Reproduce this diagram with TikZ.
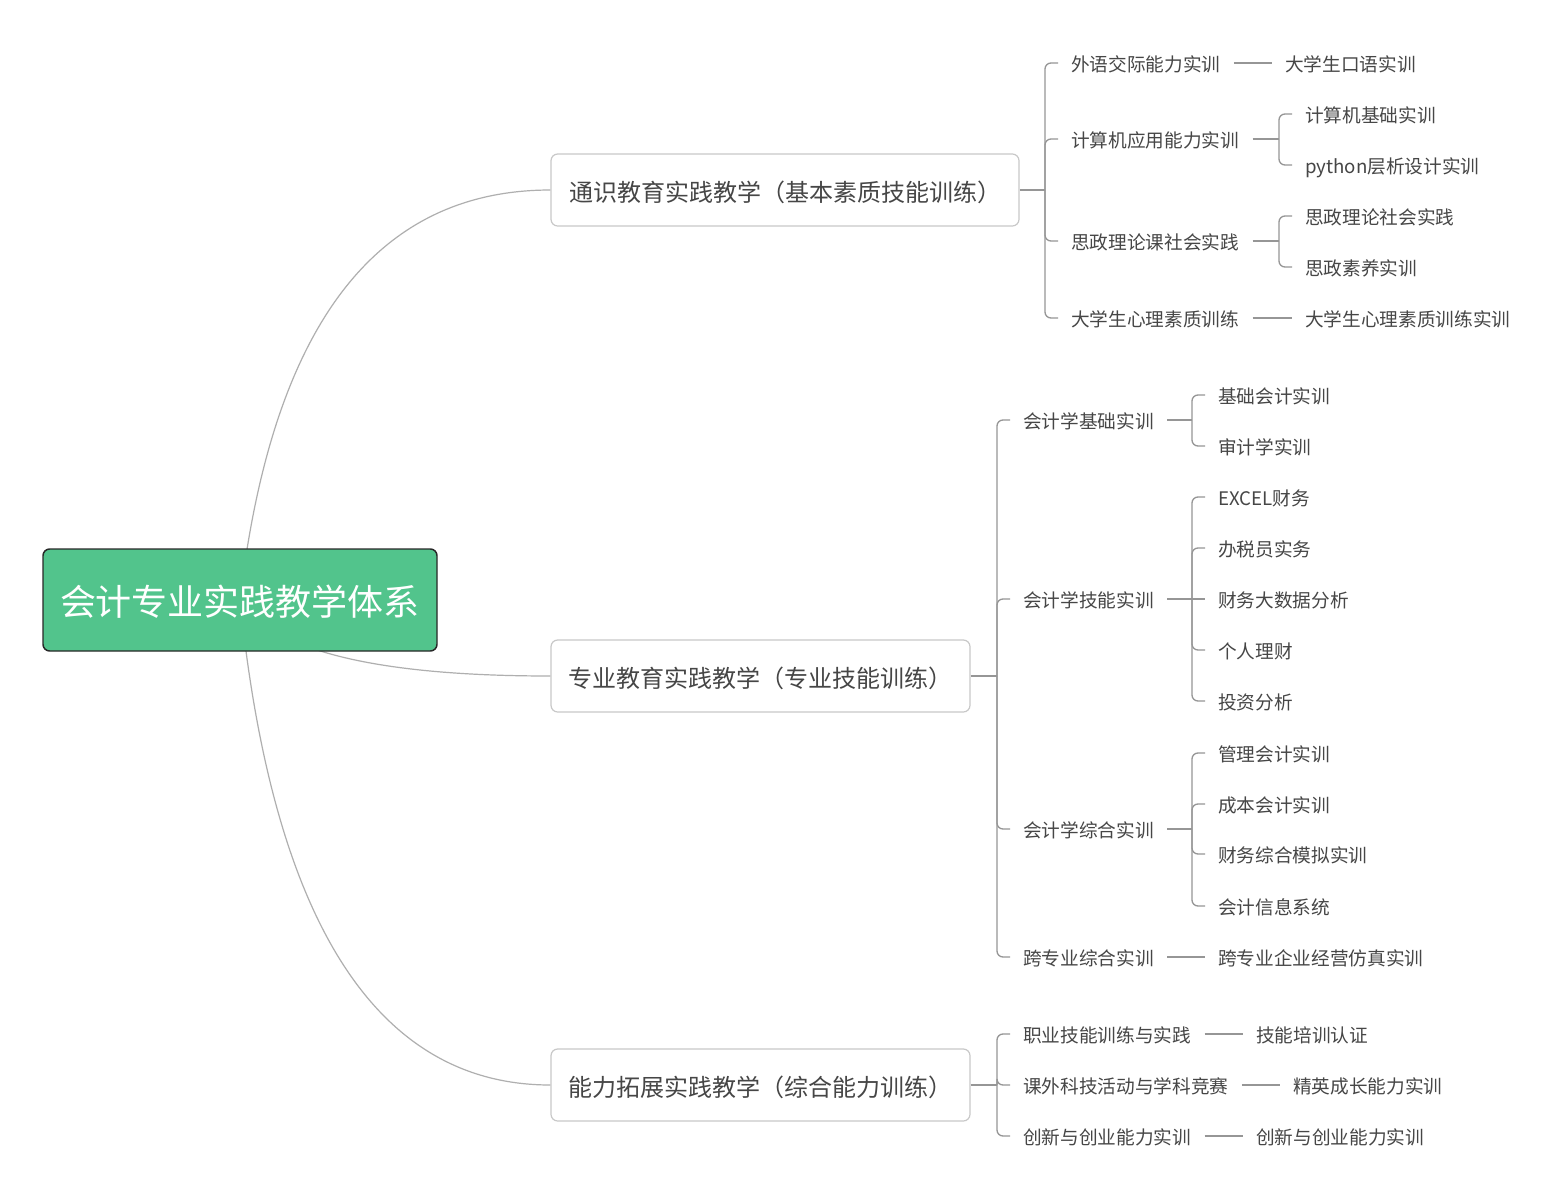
\documentclass[tikz,border=0pt]{standalone}
\usepackage{fontspec}
\setmainfont{Noto Sans CJK SC}
\usetikzlibrary{calc}
\definecolor{rootgreen}{RGB}{82,196,140}
\definecolor{rootedge}{RGB}{40,40,40}
\definecolor{curvecol}{RGB}{175,175,175}
\definecolor{linecol}{RGB}{150,150,150}
\definecolor{boxedge}{RGB}{200,200,200}
\definecolor{txt}{RGB}{70,70,70}
\tikzset{
  rootbox/.style={draw=rootedge, line width=1.1pt, fill=rootgreen, rounded corners=5pt,
    minimum width=295.5pt, minimum height=76.5pt, text=white, font=\fontsize{27pt}{30pt}\selectfont, inner sep=0pt,
    text height=23.6pt, text depth=0pt},
  mainbox/.style={draw=boxedge, line width=0.9pt, fill=white, rounded corners=5pt,
    minimum height=54pt, text=txt, font=\fontsize{18pt}{21pt}\selectfont, inner sep=0pt,
    text height=16.7pt, text depth=0pt},
  leaf/.style={anchor=west, inner sep=0pt, text=txt, font=\fontsize{14pt}{16pt}\selectfont,
    text height=13pt, text depth=0pt},
  curve/.style={draw=curvecol, line width=0.9pt},
  conn/.style={draw=linecol, line width=1pt, rounded corners=4.5pt},
}
\begin{document}
\begin{tikzpicture}[x=0.75pt,y=-0.75pt]
\useasboundingbox (0,0) rectangle (1564,1200);
\fill[white] (0,0) rectangle (1564,1200);

% curves (behind root)
\coordinate (rc) at (240,600);
\node[mainbox, minimum width=351pt] (m1) at (785,190) {通识教育实践教学（基本素质技能训练）};
\node[mainbox, minimum width=314.25pt] (m2) at (760.5,676) {专业教育实践教学（专业技能训练）};
\node[mainbox, minimum width=314.25pt] (m3) at (760.5,1085) {能力拓展实践教学（综合能力训练）};
\draw[curve] (rc) .. controls (272,327) and (375,190) .. (m1.west);
\draw[curve] (rc) .. controls (273,651) and (377,676) .. (m2.west);
\draw[curve] (rc) .. controls (273,923) and (377,1085) .. (m3.west);
\node[rootbox] (root) at (240,600) {会计专业实践教学体系};

% branch 1
\node[leaf] (a1) at (1071,63) {外语交际能力实训};
\node[leaf] (a2) at (1071,139) {计算机应用能力实训};
\node[leaf] (a3) at (1071,241) {思政理论课社会实践};
\node[leaf] (a4) at (1071,318) {大学生心理素质训练};
\node[leaf] (a11) at (1285,63) {大学生口语实训};
\node[leaf] (a21) at (1305,114) {计算机基础实训};
\node[leaf] (a22) at (1305,165) {python层析设计实训};
\node[leaf] (a31) at (1305,216) {思政理论社会实践};
\node[leaf] (a32) at (1305,267) {思政素养实训};
\node[leaf] (a41) at (1305,318) {大学生心理素质训练实训};

% branch 2
\node[leaf] (b1) at (1023,420) {会计学基础实训};
\node[leaf] (b2) at (1023,599) {会计学技能实训};
\node[leaf] (b3) at (1023,829) {会计学综合实训};
\node[leaf] (b4) at (1023,957) {跨专业综合实训};
\node[leaf] (b11) at (1218,395) {基础会计实训};
\node[leaf] (b12) at (1218,446) {审计学实训};
\node[leaf] (b21) at (1218,497) {EXCEL财务};
\node[leaf] (b22) at (1218,548) {办税员实务};
\node[leaf] (b23) at (1218,599) {财务大数据分析};
\node[leaf] (b24) at (1218,650) {个人理财};
\node[leaf] (b25) at (1218,701) {投资分析};
\node[leaf] (b31) at (1218,753) {管理会计实训};
\node[leaf] (b32) at (1218,804) {成本会计实训};
\node[leaf] (b33) at (1218,854) {财务综合模拟实训};
\node[leaf] (b34) at (1218,906) {会计信息系统};
\node[leaf] (b41) at (1218,957) {跨专业企业经营仿真实训};

% branch 3
\node[leaf] (c1) at (1023,1034) {职业技能训练与实践};
\node[leaf] (c2) at (1023,1085) {课外科技活动与学科竞赛};
\node[leaf] (c3) at (1023,1136) {创新与创业能力实训};
\node[leaf] (c11) at (1256,1034) {技能培训认证};
\node[leaf] (c21) at (1293,1085) {精英成长能力实训};
\node[leaf] (c31) at (1256,1136) {创新与创业能力实训};

% forks from main boxes
\path (a1.west) ++(-26,0) coordinate (t1);
\coordinate (j1) at (t1 |- m1.east);
\draw[conn] (m1.east) -- (j1);
\foreach \c in {a1,a2,a3,a4} \draw[conn] (j1) |- ($(\c.west)+(-13,0)$);

\path (b1.west) ++(-26,0) coordinate (t2);
\coordinate (j2) at (t2 |- m2.east);
\draw[conn] (m2.east) -- (j2);
\foreach \c in {b1,b2,b3,b4} \draw[conn] (j2) |- ($(\c.west)+(-13,0)$);

\path (c1.west) ++(-26,0) coordinate (t3);
\coordinate (j3) at (t3 |- m3.east);
\draw[conn] (m3.east) -- (j3);
\foreach \c in {c1,c2,c3} \draw[conn] (j3) |- ($(\c.west)+(-13,0)$);

% single-child links
\foreach \p/\c in {a1/a11,a4/a41,b4/b41,c1/c11,c2/c21,c3/c31}
  \draw[conn] ($(\p.east)+(13,0)$) -- ($(\c.west)+(-13,0)$);

% sub-forks
\path (a21.west) ++(-26,0) coordinate (t4);
\coordinate (j4) at (t4 |- a2.east);
\draw[conn] ($(a2.east)+(13,0)$) -- (j4);
\foreach \c in {a21,a22} \draw[conn] (j4) |- ($(\c.west)+(-13,0)$);

\path (a31.west) ++(-26,0) coordinate (t5);
\coordinate (j5) at (t5 |- a3.east);
\draw[conn] ($(a3.east)+(13,0)$) -- (j5);
\foreach \c in {a31,a32} \draw[conn] (j5) |- ($(\c.west)+(-13,0)$);

\path (b11.west) ++(-26,0) coordinate (t6);
\coordinate (j6) at (t6 |- b1.east);
\draw[conn] ($(b1.east)+(13,0)$) -- (j6);
\foreach \c in {b11,b12} \draw[conn] (j6) |- ($(\c.west)+(-13,0)$);

\path (b21.west) ++(-26,0) coordinate (t7);
\coordinate (j7) at (t7 |- b2.east);
\draw[conn] ($(b2.east)+(13,0)$) -- ($(b23.west)+(-13,0)$);
\foreach \c in {b21,b22,b24,b25} \draw[conn] (j7) |- ($(\c.west)+(-13,0)$);

\path (b31.west) ++(-26,0) coordinate (t8);
\coordinate (j8) at (t8 |- b3.east);
\draw[conn] ($(b3.east)+(13,0)$) -- (j8);
\foreach \c in {b31,b32,b33,b34} \draw[conn] (j8) |- ($(\c.west)+(-13,0)$);
\end{tikzpicture}
\end{document}
